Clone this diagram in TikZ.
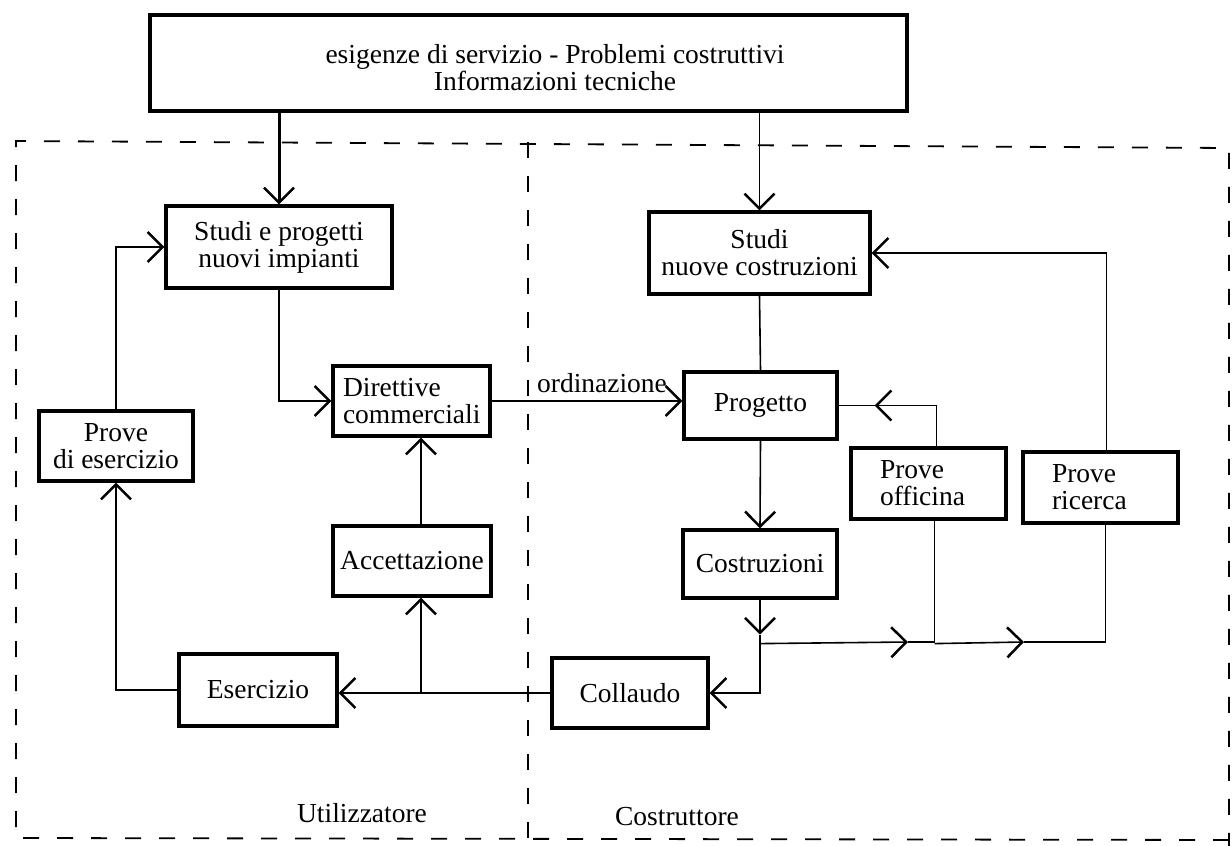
\documentclass[tikz,border=0pt]{standalone}
\usepackage{fontspec}
\setmainfont{Liberation Serif}
\usetikzlibrary{arrows.meta,calc}
\newcommand{\diagfont}{\fontsize{27.5pt}{27pt}\selectfont}
\begin{document}
\begin{tikzpicture}[x=1pt,y=-1pt,
  box/.style={draw, line width=3.2pt, inner sep=0pt, font=\diagfont, align=center},
  conn/.style={line width=1.6pt},
  barb/.style={-{Straight Barb[length=15pt,width=30pt,line width=2.5pt]}},
  arr/.style={conn, barb},
  region/.style={line width=1.8pt, dash pattern=on 16pt off 18pt},
  lab/.style={font=\diagfont}]
\useasboundingbox[fill=white] (0,0) rectangle (1232,846);

% region borders
\coordinate (rtl) at (16,141);
\coordinate (rtr) at (1229,148);
\coordinate (rbl) at (16,838);
\coordinate (rbr) at (1229,846);
\coordinate (rmt) at (528,142);
\coordinate (rmb) at (528,846);
\draw[region] (1229,840) -- (rbl) -- (rtl) -- (rtr) -- (rbr);
\draw[region] (rmt) -- (rmb);

% nodes
\node[box, minimum width=757pt, minimum height=96pt] (top) at (528.5,63) {};
\node[lab, align=center] (toptxt) at (555,68) {esigenze di servizio - Problemi costruttivi\\Informazioni tecniche};
\node[box, minimum width=226pt, minimum height=82pt] (sp) at (279,247) {Studi e progetti\\nuovi impianti};
\node[box, minimum width=157pt, minimum height=70pt, text width=137pt, align=left] (dc) at (411.5,401) {Direttive\\commerciali};
\node[box, minimum width=154pt, minimum height=70pt] (pe) at (116,446) {Prove\\di esercizio};
\node[box, minimum width=158pt, minimum height=70pt] (ac) at (412,561) {Accettazione};
\node[box, minimum width=158pt, minimum height=72pt] (es) at (258,690) {Esercizio};
\node[box, minimum width=156pt, minimum height=70pt] (co) at (630,693) {Collaudo};
\node[box, minimum width=221pt, minimum height=82pt] (sn) at (759.5,253) {Studi\\nuove costruzioni};
\node[box, minimum width=153pt, minimum height=67pt] (pr) at (760.5,405.5) {Progetto};
\node[box, minimum width=154pt, minimum height=68pt] (cs) at (760,564) {Costruzioni};
\node[box, minimum width=155pt, minimum height=71pt, text width=97pt, align=left] (po) at (928.5,483.5) {Prove\\officina};
\node[box, minimum width=155pt, minimum height=71pt, text width=97pt, align=left] (rc) at (1100.5,487.5) {Prove\\ricerca};
\node[lab] (ord) at (602,383) {ordinazione};
\node[lab] (util) at (362,813) {Utilizzatore};
\node[lab] (costr) at (677,817) {Costruttore};

% helper coordinates
\coordinate (jt) at ($(cs.south)+(0,35)$);
\coordinate (j) at ($(cs.south)+(0,44)$);
\coordinate (a1) at (908,642);
\coordinate (a2) at (1024,642);
\coordinate (poS) at ($(po.south)+(6,0)$);
\coordinate (poN) at ($(po.north)+(8,0)$);
\coordinate (rcS) at ($(rc.south)+(5,0)$);
\coordinate (rcN) at ($(rc.north)+(6,0)$);
\coordinate (pt) at ($(pr.east)+(36,0)$);
\coordinate (acS) at ($(ac.south)+(9,0)$);
\coordinate (acN) at ($(ac.north)+(9,0)$);

% connectors
\draw[line width=3pt, barb] (sp.north |- top.south) -- (sp.north);
\draw[arr] (sn.north |- top.south) -- (sn.north);
\draw[arr] (pe.north) |- (sp.west);
\draw[arr] (sp.south) |- (dc.west);
\draw[arr] (dc.east) -- (dc.east -| pr.west);
\draw[conn] (sn.south) -- (pr.north);
\draw[arr] (pr.south) -- (cs.north);
\draw[arr] (cs.south) -- (jt);
\draw[conn] (jt) -- (j);
\draw[arr] (j) |- (co.east);
\draw[arr] (j) -- (a1);
\draw[conn] (a1) -| (poS);
\draw[arr] (poS |- j) -- (a2);
\draw[conn] (a2) -| (rcS);
\draw[arr] (poN) |- (pt);
\draw[conn] (pt) -- (pr.east);
\draw[arr] (rcN) |- (sn.east);
\draw[arr] (co.west) -- (co.west -| es.east);
\draw[arr] (acS |- co.west) -- (acS);
\draw[arr] (acN) -- (acN |- dc.south);
\draw[arr] (es.west) -| (pe.south);
\end{tikzpicture}
\end{document}
